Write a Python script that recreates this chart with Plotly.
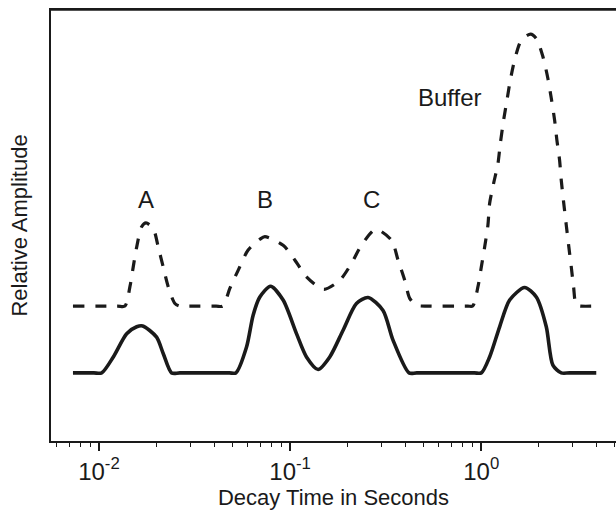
import math
import plotly.graph_objects as go

# Decay-time distributions (seconds) and relative amplitudes
sample_t = [0.00731, 0.0094, 0.01033, 0.01188, 0.01396, 0.01575, 0.01692, 0.02002, 0.02168, 0.02399,
            0.0265, 0.0480, 0.05201, 0.05916, 0.06406, 0.06944, 0.07900, 0.09192, 0.1080, 0.1218,
            0.1401, 0.1612, 0.1893, 0.2224, 0.2557, 0.3063, 0.3454, 0.4189, 0.46,
            0.92, 1.001, 1.106, 1.248, 1.408, 1.686, 1.941, 2.189, 2.370, 2.622, 2.9, 3.997]
sample_amp = [0.158, 0.158, 0.158, 0.195, 0.249, 0.265, 0.267, 0.241, 0.203, 0.158,
              0.158, 0.158, 0.158, 0.218, 0.292, 0.334, 0.359, 0.327, 0.249, 0.195,
              0.166, 0.195, 0.257, 0.319, 0.333, 0.303, 0.234, 0.158, 0.158,
              0.158, 0.158, 0.195, 0.265, 0.327, 0.356, 0.334, 0.265, 0.176, 0.158, 0.158, 0.158]

buffer_t = [0.00731, 0.0125, 0.01367, 0.01452, 0.01511, 0.01575, 0.01672, 0.01761, 0.01922, 0.02042,
            0.02168, 0.02303, 0.02496, 0.02651, 0.029, 0.041, 0.04447, 0.04838, 0.05347, 0.06032,
            0.06944, 0.07373, 0.09192, 0.1058, 0.1218, 0.1501, 0.1819, 0.2094, 0.2361, 0.2805,
            0.3389, 0.3670, 0.3978, 0.4224, 0.4577, 0.5375, 0.85, 0.9015, 0.9612, 1.001, 1.042,
            1.084, 1.106, 1.161, 1.223, 1.258, 1.310, 1.363, 1.419, 1.495, 1.621, 1.812, 1.941,
            2.101, 2.232, 2.325, 2.419, 2.487, 2.569, 2.622, 2.696, 2.785, 2.873, 2.958, 3.041,
            3.141, 3.3, 3.997]
buffer_amp = [0.313, 0.313, 0.313, 0.358, 0.404, 0.450, 0.497, 0.506, 0.493, 0.450,
              0.404, 0.358, 0.319, 0.313, 0.313, 0.313, 0.313, 0.354, 0.396, 0.443,
              0.468, 0.474, 0.454, 0.420, 0.381, 0.352, 0.373, 0.412, 0.454, 0.491,
              0.466, 0.420, 0.373, 0.331, 0.315, 0.313, 0.313, 0.313, 0.358, 0.404, 0.450,
              0.501, 0.551, 0.598, 0.644, 0.690, 0.745, 0.791, 0.837, 0.884, 0.930, 0.944, 0.934,
              0.892, 0.841, 0.795, 0.745, 0.698, 0.652, 0.605, 0.555, 0.501, 0.450, 0.404, 0.358,
              0.315, 0.313, 0.313]

# Peak labels: text, decay time (s), amplitude
peak_labels = ["A", "B", "C", "Buffer"]
peak_label_t = [0.01761, 0.07373, 0.2673, 0.684]
peak_label_amp = [0.561, 0.561, 0.561, 0.798]

# Axis ticks
major_tick_vals = [0.01, 0.1, 1]
major_tick_text = ["10<sup>-2</sup>", "10<sup>-1</sup>", "10<sup>0</sup>"]
minor_tick_vals = [m * d for d in (0.001, 0.01, 0.1, 1) for m in range(2, 10)]

FONT = "Liberation Sans, Arial, Helvetica, sans-serif"
INK = "#1a1a1a"

fig = go.Figure()
fig.add_trace(go.Scatter(
    x=buffer_t, y=buffer_amp, mode="lines",
    line=dict(color=INK, width=3.2, dash="11px,11px", shape="spline", smoothing=0.75),
    showlegend=False, hoverinfo="skip"))
fig.add_trace(go.Scatter(
    x=sample_t, y=sample_amp, mode="lines",
    line=dict(color=INK, width=3.6, shape="spline", smoothing=0.75),
    showlegend=False, hoverinfo="skip"))

for txt, t, a in zip(peak_labels, peak_label_t, peak_label_amp):
    fig.add_annotation(x=math.log10(t), y=a, text=txt, showarrow=False,
                       font=dict(family=FONT, size=24, color=INK),
                       xanchor="center", yanchor="middle")

# top edge of the plot frame
fig.add_shape(type="line", xref="paper", yref="paper", x0=0, x1=1, y0=1, y1=1,
              line=dict(color=INK, width=1.5), layer="above")

fig.update_layout(
    template="none",
    width=616, height=510,
    margin=dict(l=51, r=0, t=10, b=69),
    paper_bgcolor="white", plot_bgcolor="white",
    font=dict(family=FONT, color=INK, size=22),
    xaxis=dict(
        type="log", range=[-2.251, 0.705],
        tickmode="array", tickvals=major_tick_vals, ticktext=major_tick_text,
        showline=True, linecolor=INK, linewidth=1.5, mirror=True,
        ticks="outside", ticklen=8, tickwidth=1.5, tickcolor=INK,
        minor=dict(tickmode="array", tickvals=minor_tick_vals, ticks="outside",
                   ticklen=4, tickwidth=1, tickcolor=INK, showgrid=False),
        showgrid=False, zeroline=False,
        tickfont=dict(family=FONT, size=24, color=INK),
        title=dict(text="Decay Time in Seconds", font=dict(family=FONT, size=22, color=INK), standoff=4),
    ),
    yaxis=dict(
        range=[0, 1],
        showline=True, linecolor=INK, linewidth=1.5, mirror=False,
        ticks="", showticklabels=False, showgrid=False, zeroline=False,
        title=dict(text="Relative Amplitude", font=dict(family=FONT, size=22, color=INK), standoff=16),
    ),
)

fig.write_html("out.html")
